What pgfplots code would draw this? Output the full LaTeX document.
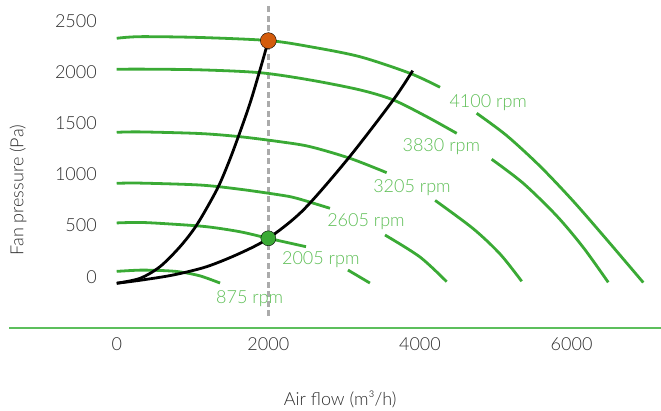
\documentclass[border=0pt]{standalone}
\usepackage{fontspec}
\setmainfont{Lato Light}
\usepackage{pgfplots}
\pgfplotsset{compat=1.18}

\definecolor{curvegreen}{HTML}{3AAA35}
\definecolor{labelgreen}{HTML}{5DBE55}
\definecolor{axisgreen}{HTML}{5CBF5C}
\definecolor{dotorange}{HTML}{D35B0C}
\definecolor{txt}{HTML}{2E2E2E}
\definecolor{dashgray}{HTML}{ABABAB}

\begin{document}
\begin{tikzpicture}
\path[use as bounding box] (0,0) rectangle (661pt,410pt);
\begin{axis}[
  at={(9pt,82pt)}, anchor=south west,
  scale only axis, width=652pt, height=328pt,
  xmin=-1421, xmax=7180, ymin=-501, ymax=2702,
  axis x line*=bottom, axis y line*=left,
  x axis line style={draw=axisgreen, line width=1.5pt, -},
  y axis line style={draw=none},
  major tick length=0pt,
  xtick={0,2000,4000,6000}, ytick={0,500,...,2500},
  scaled ticks=false,
  /pgf/number format/assume math mode=true,
  /pgf/number format/1000 sep={},
  ticklabel style={font=\fontsize{18}{20}\selectfont, text=txt},
  yticklabel style={anchor=east, inner sep=0pt, xshift=88pt},
  xticklabel style={yshift=-6pt},
  xlabel={Air flow (m³/h)},
  ylabel={Fan pressure (Pa)},
  label style={font=\fontsize{18}{20}\selectfont, text=txt},
  xlabel style={at={(axis description cs:0.508,-0.219)}, anchor=center},
  ylabel style={at={(axis description cs:0.0138,0.42)}, anchor=center},
  unbounded coords=jump,
  clip=false,
  fan/.style={curvegreen, line width=2.8pt, smooth},
]
% operating line at 2000 m3/h
\addplot[dashgray, line width=2.6pt, dash pattern=on 6pt off 3.5pt] coordinates {(2000,-384) (2000,2653)};

% fan curves (gaps leave room for the speed labels)
\addplot[fan] coordinates {
  (0,2328) (307,2344) (1099,2336) (2000,2306) (2550,2246) (3209,2148) (3869,1986) (4265,1850)
  (4500,nan)
  (4748,1596) (5144,1378) (5584,1079) (6023,737) (6463,363) (6946,-57)};
\addplot[fan] coordinates {
  (0,2025) (307,2027) (1099,2020) (1890,1992) (2550,1921) (3209,1824) (3648,1726) (4089,1563) (4485,1400)
  (4700,nan)
  (4946,1147) (5363,912) (5804,594) (6154,286) (6484,-55)};
\addplot[fan] coordinates {
  (0,1410) (307,1414) (1099,1398) (1626,1367) (2154,1318) (2550,1270) (3077,1156) (3561,1016)
  (3900,nan)
  (4200,745) (4704,468) (5060,219) (5342,-45)};
\addplot[fan] coordinates {
  (0,912) (307,914) (1099,895) (1626,854) (2154,798) (2374,766) (2813,668)
  (3200,nan)
  (3539,407) (4001,192) (4353,-49)};
\addplot[fan] coordinates {
  (0,525) (307,530) (700,515) (1187,488) (1626,439) (2000,375) (2497,293)
  (2800,nan)
  (3050,65) (3340,-62)};
\addplot[fan] coordinates {
  (0,52) (307,64) (600,60) (835,47) (1099,8) (1363,-62)};

% system curves
\addplot[black, line width=2.8pt, smooth] coordinates {
  (0,-64) (307,-16) (571,98) (835,293) (1055,505) (1319,847) (1472,1107)
  (1604,1367) (1758,1693) (1890,2019) (2000,2305)};
\addplot[black, line width=2.8pt, smooth] coordinates {
  (0,-64) (307,-35) (747,17) (1187,98) (1626,229) (2000,375) (2461,651)
  (3055,1156) (3648,1726) (3904,2012)};

% operating points
\addplot[only marks, mark=*, mark size=8pt, mark options={fill=dotorange, draw=none}] coordinates {(2000,2305)};
\addplot[only marks, mark=*, mark size=7.5pt, mark options={fill=curvegreen, draw=none}] coordinates {(2000,375)};

\begin{scope}[every node/.style={text=labelgreen, font=\fontsize{18}{20}\selectfont}]
\node at (axis cs:4901,1699) {4100 rpm};
\node at (axis cs:4282,1270) {3830 rpm};
\node at (axis cs:3895,869) {3205 rpm};
\node at (axis cs:3288,537) {2605 rpm};
\node at (axis cs:2692,170) {2005 rpm};
\node at (axis cs:1754,-218) {875 rpm};
\end{scope}
\end{axis}
\end{tikzpicture}
\end{document}
